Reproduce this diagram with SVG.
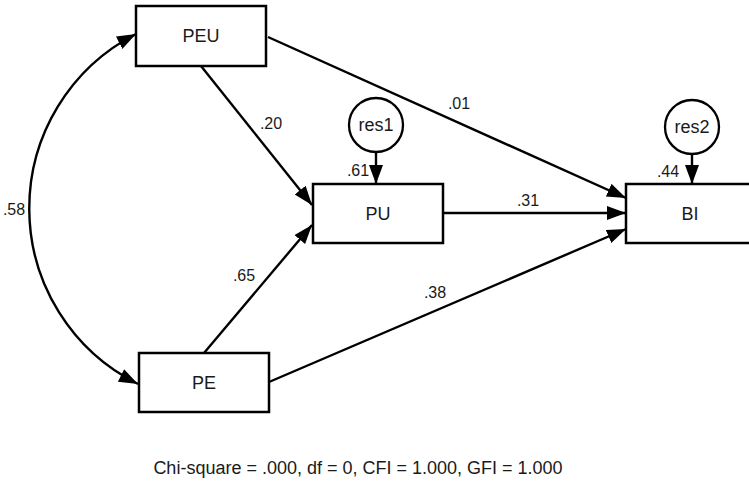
<svg xmlns="http://www.w3.org/2000/svg" width="749" height="482" viewBox="0 0 749 482">
<style>
.box{fill:#fff;stroke:#000;stroke-width:2.5}
.circ{fill:#fff;stroke:#000;stroke-width:2.3}
.lbl{font-family:"Liberation Sans",Arial,sans-serif;font-size:18px;fill:#1a1a1a;text-anchor:middle}
.coef{font-family:"Liberation Sans",Arial,sans-serif;font-size:16px;fill:#1a1a1a;text-anchor:middle}
.edge{fill:none;stroke:#000;stroke-width:2.4;marker-end:url(#ah)}
</style>
<defs>
<marker id="ah" markerUnits="userSpaceOnUse" markerWidth="20" markerHeight="16" refX="19" refY="7" orient="auto-start-reverse">
<path d="M0,0 L19,7 L0,14 z" fill="#000"/>
</marker>
</defs>
<rect width="749" height="482" fill="#fff"/>
<g id="connectors">
<path class="edge" style="marker-start:url(#ah)" d="M136,34 A196,196 0 0 0 138,384"/>
<line class="edge" x1="268" y1="37" x2="626" y2="198"/>
<line class="edge" x1="443" y1="213" x2="626" y2="213"/>
<line class="edge" x1="269" y1="382" x2="626" y2="229"/>
<line class="edge" x1="201" y1="66" x2="312" y2="205"/>
<line class="edge" x1="204" y1="353" x2="312" y2="225"/>
<line class="edge" x1="376" y1="152" x2="376" y2="184"/>
<line class="edge" x1="692" y1="154" x2="692" y2="184"/>
<text class="coef" x="14" y="215">.58</text>
<text class="coef" x="271" y="129">.20</text>
<text class="coef" x="459" y="109">.01</text>
<text class="coef" x="528" y="206">.31</text>
<text class="coef" x="244" y="281">.65</text>
<text class="coef" x="435" y="298">.38</text>
<text class="coef" x="358" y="176">.61</text>
<text class="coef" x="668" y="177">.44</text>
</g>
<g id="PEU"><rect class="box" x="136" y="6" width="130" height="60"/><text class="lbl" x="201" y="42">PEU</text></g>
<g id="PU"><rect class="box" x="313" y="184" width="130" height="59"/><text class="lbl" x="378" y="220">PU</text></g>
<g id="BI"><rect class="box" x="626" y="184" width="130" height="59"/><text class="lbl" x="690" y="220">BI</text></g>
<g id="PE"><rect class="box" x="139" y="353" width="130" height="59"/><text class="lbl" x="204" y="389">PE</text></g>
<g id="res1"><circle class="circ" cx="376" cy="125" r="27"/><text class="lbl" x="376" y="131">res1</text></g>
<g id="res2"><circle class="circ" cx="692" cy="127" r="27"/><text class="lbl" x="692" y="133">res2</text></g>
<text class="lbl" x="358" y="474">Chi-square = .000, df = 0, CFI = 1.000, GFI = 1.000</text>
</svg>
